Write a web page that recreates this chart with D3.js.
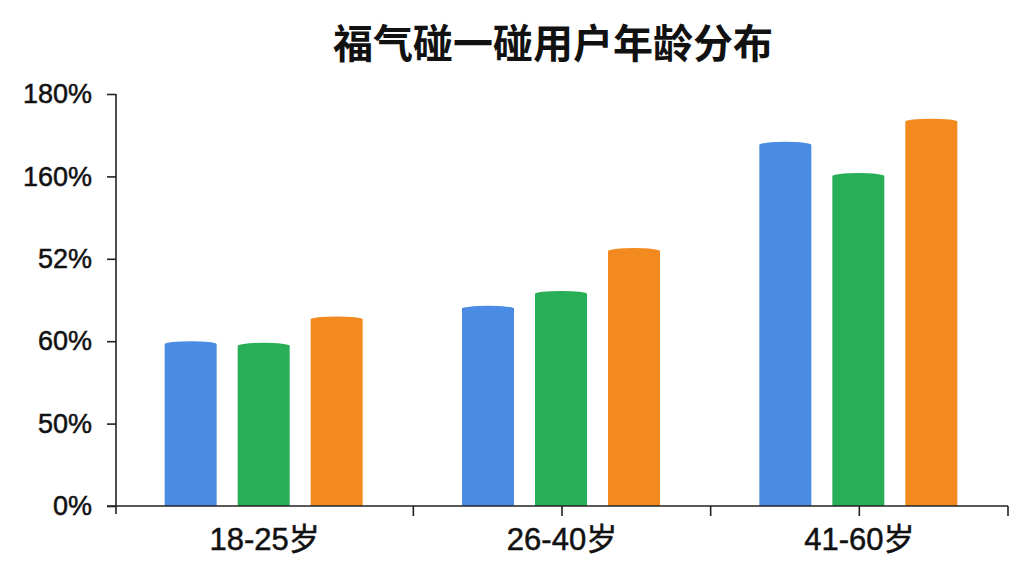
<!DOCTYPE html>
<html>
<head>
<meta charset="utf-8">
<title>福气碰一碰用户年龄分布</title>
<script src="https://cdn.jsdelivr.net/npm/d3@7/dist/d3.min.js"></script>
<style>
    html, body { margin: 0; padding: 0; background: #ffffff; }
    svg { display: block; }
    text { font-family: "Liberation Sans", Arial, "Noto Sans CJK SC", sans-serif; fill: #111111; }
</style>
</head>
<body>
<svg id="graphique" width="1024" height="576"></svg>
<script>
"use strict";

// categories (axe x)
var categories = ["18-25岁", "26-40岁", "41-60岁"];

// series : position de chaque barre sur l'axe y, en rangs de graduation (0 = "0%", 5 = "180%")
var serieBleue = [2.00, 2.43, 4.42];
var serieVerte = [1.98, 2.61, 4.04];
var serieOrange = [2.30, 3.13, 4.70];

// libellés des graduations, tels qu'ils sont écrits sur l'image
var etiquettesY = ["0%", "50%", "60%", "52%", "160%", "180%"];

var titre = "福气碰一碰用户年龄分布";

var series = [
    {nom: "bleu", couleur: "#4a8be4", valeurs: serieBleue},
    {nom: "vert", couleur: "#27ae57", valeurs: serieVerte},
    {nom: "orange", couleur: "#f28a1f", valeurs: serieOrange}
];

var svg = d3.select("#graphique");

var marge = {haut: 94, droite: 16, bas: 70, gauche: 116};
var basY = 506;

var x0 = d3.scaleBand()
    .domain(categories)
    .range([marge.gauche, 1008])
    .paddingInner(0)
    .paddingOuter(0);

// 3 barres de 52px, pas de 73px, centrées dans la bande
var x1 = d3.scaleBand()
    .domain(series.map(function(s) { return s.nom; }))
    .range([x0.bandwidth() / 2 - 100, x0.bandwidth() / 2 + 98])
    .paddingInner(21 / 73)
    .paddingOuter(0);

var y = d3.scaleLinear()
    .domain([0, etiquettesY.length - 1])
    .range([basY, marge.haut]);

// titre
svg.append("text")
    .attr("x", 553)
    .attr("y", 41)
    .attr("text-anchor", "middle")
    .attr("dominant-baseline", "central")
    .style("font-family", "'Noto Sans CJK SC', sans-serif")
    .style("font-size", "40px")
    .style("font-weight", "bold")
    .text(titre);

// barres (haut légèrement arrondi)
function cheminBarre(x, w, haut, bas) {
    var r = 3;
    return "M" + x + "," + bas +
        "V" + (haut + r) +
        "A" + (w / 2) + "," + r + " 0 0 1 " + (x + w) + "," + (haut + r) +
        "V" + bas + "Z";
}

var groupes = svg.append("g").selectAll("g")
    .data(categories)
    .enter().append("g")
    .attr("transform", function(d) { return "translate(" + x0(d) + ",0)"; });

groupes.selectAll("path")
    .data(function(d, i) {
        return series.map(function(s) {
            return {nom: s.nom, couleur: s.couleur, valeur: s.valeurs[i]};
        });
    })
    .enter().append("path")
    .attr("d", function(d) {
        return cheminBarre(x1(d.nom), x1.bandwidth(), y(d.valeur), basY);
    })
    .attr("fill", function(d) { return d.couleur; });

// axe y
var axeY = svg.append("g")
    .attr("transform", "translate(" + marge.gauche + ",0)")
    .call(d3.axisLeft(y)
        .tickValues(d3.range(etiquettesY.length))
        .tickSize(9)
        .tickSizeOuter(0)
        .tickPadding(15)
        .tickFormat(function(d) { return etiquettesY[d]; }));

axeY.select(".domain")
    .attr("d", "M0," + y.range()[1] + "V" + (basY + 8))
    .attr("stroke", "#222")
    .attr("stroke-width", 1.6);
axeY.selectAll(".tick line").attr("stroke", "#222").attr("stroke-width", 1.6);
axeY.selectAll(".tick text")
    .style("font-size", "27px")
    .attr("fill", "#111")
    .attr("stroke", "#111")
    .attr("stroke-width", 0.5);

// axe x
var axeX = svg.append("g")
    .attr("transform", "translate(0," + basY + ")")
    .call(d3.axisBottom(x0).tickSize(0).tickSizeOuter(0).tickPadding(18));

axeX.select(".domain")
    .attr("d", "M" + (marge.gauche - 9) + ",0H" + x0.range()[1])
    .attr("stroke", "#222")
    .attr("stroke-width", 1.6);
axeX.selectAll(".tick text")
    .style("font-size", "31px")
    .attr("dy", "0.85em")
    .attr("fill", "#111")
    .attr("stroke", "#111")
    .attr("stroke-width", 0.5);

// graduations de l'axe x : fins de bandes, et milieux des groupes 2 et 3
var positionsGraduations = [];
categories.forEach(function(c, i) {
    positionsGraduations.push(x0(c) + x0.bandwidth());
    if (i > 0) positionsGraduations.push(x0(c) + x0.bandwidth() / 2);
});

axeX.selectAll("line.graduation")
    .data(positionsGraduations)
    .enter().append("line")
    .attr("class", "graduation")
    .attr("x1", function(d) { return d; })
    .attr("x2", function(d) { return d; })
    .attr("y1", 0)
    .attr("y2", 10)
    .attr("stroke", "#222")
    .attr("stroke-width", 1.6);
</script>
</body>
</html>
